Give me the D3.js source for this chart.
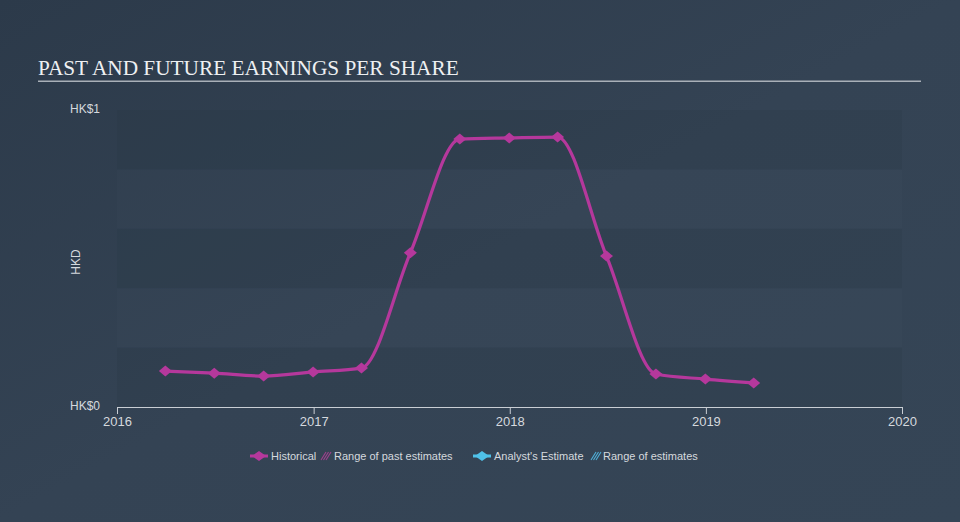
<!DOCTYPE html>
<html><head><meta charset="utf-8">
<script src="https://cdn.jsdelivr.net/npm/d3@7"></script>
<style>
html,body{margin:0;padding:0;background:#333f4f;}
svg{display:block;}
</style></head>
<body>
<svg id="c" width="960" height="522"></svg>
<script>
const dates = ["2016-03-31","2016-06-30","2016-09-30","2016-12-31","2017-03-31","2017-06-30","2017-09-30","2017-12-31","2018-03-31","2018-06-30","2018-09-30","2018-12-31","2019-03-31"];
const eps = [0.121,0.114,0.104,0.118,0.131,0.519,0.902,0.906,0.909,0.508,0.111,0.094,0.081];
const yearTicks = [2016,2017,2018,2019,2020];
const yTickLabels = ["HK$0","HK$1"];

const svg = d3.select("#c");
const W=960,H=522;
const defs = svg.append("defs");
const g = defs.append("linearGradient").attr("id","bg").attr("x1","0").attr("y1","0").attr("x2","1").attr("y2","1");
g.append("stop").attr("offset","0").attr("stop-color","#2c3a4a");
g.append("stop").attr("offset","0.5").attr("stop-color","#344354");
g.append("stop").attr("offset","1").attr("stop-color","#354556");
svg.append("rect").attr("width",W).attr("height",H).attr("fill","url(#bg)");

const parse = d3.timeParse("%Y-%m-%d");
const x = d3.scaleTime().domain([new Date(2016,0,1), new Date(2020,0,1)]).range([117,902]);
const y = d3.scaleLinear().domain([0,1]).range([407,110]);

svg.append("rect").attr("x",117).attr("y",110).attr("width",785).attr("height",297).attr("fill","rgba(255,255,255,0.012)");
for(let i=0;i<5;i+=2){
  svg.append("rect").attr("x",117).attr("width",785)
    .attr("y",y(1-i*0.2)).attr("height",y(1-(i+1)*0.2)-y(1-i*0.2))
    .attr("fill","rgba(20,30,42,0.12)");
}

svg.append("text").attr("x",38).attr("y",75).text("PAST AND FUTURE EARNINGS PER SHARE")
  .attr("font-family","'Liberation Serif','DejaVu Serif',serif").attr("font-size",21.3).attr("fill","#eef0f2");
svg.append("rect").attr("x",38).attr("y",80.5).attr("width",883).attr("height",1.5).attr("fill","#a9b0b8");

const lab = {"font-family":"'Liberation Sans',Arial,sans-serif","font-size":12,"fill":"#d5d9de"};
function applyAttrs(s,o){for(const k in o) s.attr(k,o[k]); return s;}
applyAttrs(svg.append("text").attr("x",70).attr("y",113).text(yTickLabels[1]),lab);
applyAttrs(svg.append("text").attr("x",70).attr("y",410).text(yTickLabels[0]),lab);
applyAttrs(svg.append("text").attr("transform","translate(80,262) rotate(-90)").attr("text-anchor","middle").text("HKD"),lab);

const xa = svg.append("g").attr("transform","translate(0,407)")
  .call(d3.axisBottom(x).tickValues(yearTicks.map(v=>new Date(v,0,1))).tickFormat(d3.timeFormat("%Y")).tickSize(6).tickSizeOuter(0));
xa.select(".domain").attr("stroke","#c9ced4");
xa.selectAll(".tick line").attr("stroke","#c9ced4").attr("y2",7);
xa.selectAll(".tick text").attr("fill","#d5d9de").attr("font-family","'Liberation Sans',Arial,sans-serif").attr("font-size",13).attr("dy","0.71em").attr("y",10);

const pts = dates.map((d,i)=>({d:parse(d),v:eps[i]}));
const col = "#b5389c";
svg.append("path").datum(pts).attr("fill","none").attr("stroke",col).attr("stroke-width",3.2)
  .attr("d", d3.line().x(p=>x(p.d)).y(p=>y(p.v)).curve(d3.curveMonotoneX));
const diamond = "M0,-5.5L6.5,0L0,5.5L-6.5,0Z";
svg.selectAll("path.m").data(pts).enter().append("path").attr("class","m")
  .attr("d",diamond).attr("fill",col).attr("transform",p=>`translate(${x(p.d)},${y(p.v)})`);

const lg = svg.append("g");
const lt = {"font-family":"'Liberation Sans',Arial,sans-serif","font-size":11,"fill":"#d5d9de"};
function legDiamond(cx,c){
  lg.append("path").attr("d","M0,-5L7,0L0,5L-7,0Z").attr("fill",c).attr("transform",`translate(${cx},456)`);
  lg.append("rect").attr("x",cx-9).attr("y",454.5).attr("width",18).attr("height",3).attr("fill",c);
}
function hatch(cx,c){
  for(let k=0;k<3;k++){
    lg.append("line").attr("x1",cx-4+k*2.5).attr("y1",460).attr("x2",cx+1+k*2.5).attr("y2",452).attr("stroke",c).attr("stroke-width",1.1);
  }
}
legDiamond(259,col);
applyAttrs(lg.append("text").attr("x",271).attr("y",460).text("Historical"),lt);
hatch(325,"#a0408e");
applyAttrs(lg.append("text").attr("x",334).attr("y",460).text("Range of past estimates"),lt);
legDiamond(482,"#4fc1e9");
applyAttrs(lg.append("text").attr("x",494).attr("y",460).text("Analyst's Estimate"),lt);
hatch(595,"#4fb0d8");
applyAttrs(lg.append("text").attr("x",603).attr("y",460).text("Range of estimates"),lt);
</script>
</body></html>
